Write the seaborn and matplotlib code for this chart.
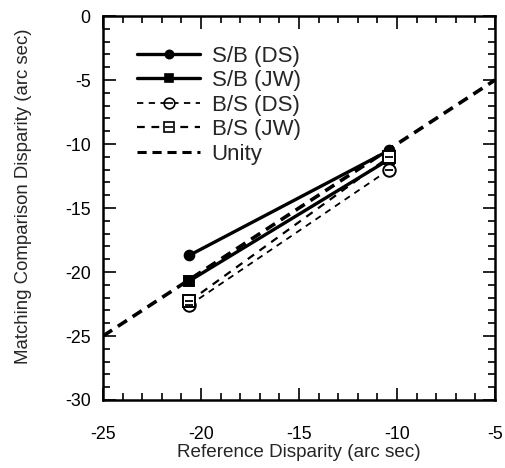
import numpy as np
import pandas as pd
import matplotlib
matplotlib.use("Agg")
import matplotlib.pyplot as plt
import seaborn as sns
from matplotlib.ticker import MultipleLocator

# Values
ref_disp = [-20.6, -10.4]
sb_ds = [-18.7, -10.5]
sb_jw = [-20.7, -11.2]
bs_ds = [-22.6, -12.0]
bs_jw = [-22.3, -11.0]
unity = [-25, -5]

series = {
    "S/B (DS)": sb_ds,
    "S/B (JW)": sb_jw,
    "B/S (DS)": bs_ds,
    "B/S (JW)": bs_jw,
}

df = pd.DataFrame(
    [{"ref": x, "match": y, "cond": name}
     for name, ys in series.items() for x, y in zip(ref_disp, ys)]
)

sns.set_theme(style="ticks")
plt.rcParams["font.family"] = ["Liberation Sans", "DejaVu Sans"]
plt.rcParams["axes.unicode_minus"] = False

fig = plt.figure(figsize=(5.06, 4.68), dpi=100)
ax = fig.add_axes([0.2036, 0.1453, 0.7747, 0.8205])

unity_dash = (0, (3.0, 1.9))

# unity line
sns.lineplot(x=unity, y=unity, ax=ax, color="black", lw=2.6,
             linestyle=unity_dash, label="_nolegend_")

styles = {
    "S/B (DS)": dict(ls="-", lw=2.4, marker="o", ms=7, mfc="black", bar=False),
    "S/B (JW)": dict(ls="-", lw=2.4, marker="s", ms=7.5, mfc="black", bar=False),
    "B/S (DS)": dict(ls=(0, (3.5, 3)), lw=1.3, marker="o", ms=9, mfc="white", bar=True),
    "B/S (JW)": dict(ls=(0, (3.5, 3)), lw=1.6, marker="s", ms=8.5, mfc="white", bar=True),
}

handles = []
for name, st in styles.items():
    sub = df[df["cond"] == name]
    sns.lineplot(data=sub, x="ref", y="match", ax=ax, color="black",
                 linestyle=st["ls"], lw=st["lw"], label="_nolegend_")
    ax.plot(sub["ref"], sub["match"], ls="none", marker=st["marker"],
            ms=st["ms"], mfc=st["mfc"], mec="black", mew=1.4, zorder=4)
    h_line, = ax.plot([], [], color="black", ls=st["ls"], lw=st["lw"],
                      marker=st["marker"], ms=st["ms"] * 0.85, mfc=st["mfc"],
                      mec="black", mew=1.2)
    if st["bar"]:
        ax.plot(sub["ref"], sub["match"], ls="none", marker="_",
                ms=st["ms"] * 0.7, mec="black", mew=1.3, zorder=5)
        h_bar, = ax.plot([], [], ls="none", marker="_", ms=st["ms"] * 0.6,
                         mec="black", mew=1.2)
        handles.append(((h_line, h_bar), name))
    else:
        handles.append((h_line, name))

h_unity, = ax.plot([], [], color="black", ls=unity_dash, lw=2.2)
handles.append((h_unity, "Unity"))

ax.legend([h for h, _ in handles], [n for _, n in handles],
          loc="upper left", bbox_to_anchor=(0.087, 0.923), frameon=False,
          fontsize=16, handlelength=2.85, handletextpad=0.5,
          labelspacing=0.16, borderpad=0, borderaxespad=0)

ax.set_xlim(-25, -5)
ax.set_ylim(-30, 0)
ax.xaxis.set_major_locator(MultipleLocator(5))
ax.xaxis.set_minor_locator(MultipleLocator(1))
ax.yaxis.set_major_locator(MultipleLocator(5))
ax.yaxis.set_minor_locator(MultipleLocator(1))
ax.tick_params(which="both", direction="in", top=True, right=True,
               color="black", width=1.2)
ax.tick_params(which="major", length=9, labelsize=12.8, colors="black")
ax.tick_params(which="minor", length=5)
ax.tick_params(axis="x", which="major", pad=19)
ax.tick_params(axis="y", which="major", pad=9)
for sp in ax.spines.values():
    sp.set_linewidth(1.8)
    sp.set_color("black")

ax.set_xlabel("Reference Disparity (arc sec)", fontsize=13.6, labelpad=0.5)
ax.set_ylabel("Matching Comparison Disparity (arc sec)", fontsize=13.4)
ax.yaxis.set_label_coords(-0.182, 0.531)

fig.savefig("out.png", dpi=100)
